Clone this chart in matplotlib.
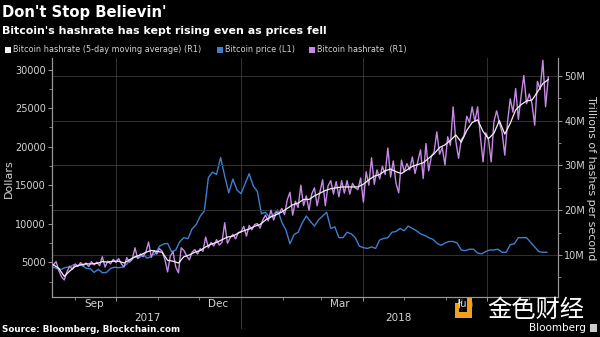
import numpy as np
import pandas as pd
import matplotlib
matplotlib.use('Agg')
import matplotlib.pyplot as plt
import matplotlib.dates as mdates
from matplotlib.patches import Rectangle

# Bitcoin price, USD, every 3 days from 2017-08-16
price = [4380, 4150, 4100, 4340, 4390, 4700,
         4600, 4600, 4230, 4170, 3700, 4080, 3650, 3680, 4200, 4360,
         4300, 4370, 4770, 5430, 5680, 5570, 6010, 5530, 5760, 6130,
         7080, 7380, 7460, 6360, 6600, 7700, 8200, 8060, 9330, 9890,
         10980, 11650, 16000, 16700, 16400, 18600, 16200, 14000, 15800, 14400,
         13900, 15200, 16500, 14900, 14200, 11300, 11500, 10800, 11200, 11800, 10200,
         9200, 7400, 8600, 8900, 10100, 11000, 10300, 9700, 10500,
         11000, 11500, 9400, 9600, 8200, 8200, 8900, 8700, 8200, 7100,
         6900, 6800, 7000, 6800, 7900, 8100, 8200, 8900, 9000, 9400,
         9100, 9700, 9400, 9100, 8700, 8500, 8200, 8000, 7500, 7200, 7500,
         7700, 7700, 7500, 6600, 6500, 6700, 6700, 6200, 6100, 6400,
         6600, 6600, 6700, 6300, 6300, 7300, 7400, 8200, 8200, 8200,
         7600, 7000, 6400, 6300, 6300]

# hashrate, millions of TH/s, every 2 days from 2017-08-16
hashrate = [7.8, 8.5, 6.5, 5.1, 4.4, 6.2, 7.5, 6.8, 8.0, 7.4,
            8.3, 7.6, 8.2, 7.4, 8.5, 7.8, 8.4, 7.6, 9.6, 7.3,
            8.6, 8.0, 9.0, 8.3, 9.2, 8.0, 7.3, 9.4, 8.4, 9.0,
            11.6, 9.2, 10.2, 9.6, 10.6, 12.9, 9.5, 11.0, 10.2, 11.4,
            10.8, 9.0, 6.2, 9.8, 10.7, 7.3, 6.0, 11.6, 11.0, 9.8,
            8.9, 10.6, 11.2, 10.2, 11.4, 10.8, 14.0, 11.6, 12.8, 12.0,
            13.4, 12.2, 12.8, 17.2, 12.6, 13.8, 14.6, 13.6, 15.0, 15.2,
            16.4, 14.2, 16.6, 15.6, 16.8, 17.0, 16.0, 17.8, 18.9, 17.6,
            20.0, 17.8, 19.6, 19.2, 20.4, 19.0, 22.3, 24.0, 18.9, 22.0,
            20.6, 25.6, 21.0, 23.2, 20.0, 23.6, 25.0, 21.0, 24.0, 26.8,
            21.0, 25.4, 26.6, 23.6, 26.4, 23.0, 26.6, 23.8, 26.6, 23.6,
            26.0, 25.0, 24.6, 27.2, 21.8, 28.6, 25.6, 31.7, 25.8, 29.0,
            27.0, 29.8, 28.0, 33.9, 27.4, 31.0, 26.0, 23.9, 31.2, 28.6,
            30.4, 29.0, 31.9, 28.2, 30.8, 33.5, 27.1, 34.9, 28.8, 32.0,
            33.0, 37.5, 32.5, 34.0, 30.1, 36.4, 34.5, 43.1, 35.4, 31.6,
            35.8, 36.6, 41.0, 39.6, 43.1, 39.8, 43.1, 36.6, 30.8, 37.3,
            35.8, 30.8, 39.8, 42.2, 39.6, 37.4, 32.3, 39.6, 44.9, 41.9,
            47.2, 40.3, 45.5, 50.1, 43.8, 46.0, 43.8, 39.0, 48.8, 47.0,
            53.5, 43.1, 49.8]

# 5-day moving average of hashrate, read every 4 days from 2017-08-16
hashrate_ma = [7.8, 7.0, 5.2, 6.4, 7.4, 7.8, 8.0, 8.0, 8.1, 8.5,
               8.4, 8.6, 8.6, 8.2, 8.9, 9.6, 10.0, 10.6, 11.0, 10.8,
               10.6, 8.8, 8.6, 8.2, 9.6, 10.0, 10.6, 11.0, 11.8, 12.4,
               12.8, 13.4, 14.0, 14.2, 14.9, 15.4, 15.8, 16.4, 16.8, 17.8,
               18.5, 19.0, 19.6, 20.4, 21.2, 21.6, 22.4, 22.4, 23.2, 23.8,
               24.4, 24.8, 25.0, 25.2, 25.2, 25.2, 25.2, 25.8, 26.8, 27.6,
               28.0, 28.8, 29.2, 28.6, 28.2, 29.0, 29.8, 30.2, 30.6, 31.6,
               32.6, 34.0, 34.6, 35.6, 36.8, 35.2, 37.8, 39.6, 40.2, 37.6,
               36.0, 37.2, 40.0, 37.0, 39.4, 42.4, 43.6, 44.4, 44.6, 46.4,
               48.3, 49.2]

month_labels = ['Sep', 'Dec', 'Mar', 'Jun']
month_label_dates = ['2017-09-15', '2017-12-15', '2018-03-15', '2018-06-15']
year_labels = ['2017', '2018']

price_dates = pd.date_range('2017-08-16', periods=len(price), freq='3D')
hash_dates = pd.date_range('2017-08-16', periods=len(hashrate), freq='2D')
ma_dates = pd.date_range('2017-08-16', periods=len(hashrate_ma), freq='4D')

# 颜色
bg = '#000000'
c_price = '#3d7fd0'
c_hash = '#c68ae6'
c_ma = '#f2f2f2'
c_grid = '#3a3a3a'
c_axis = '#999999'
c_text = '#d4d4d4'

plt.rcParams['font.family'] = ['DejaVu Sans', 'Noto Sans CJK SC']

fig = plt.figure(figsize=(6, 3.37), dpi=100, facecolor=bg)
ax = fig.add_axes([0.0867, 0.1187, 0.843, 0.709], facecolor=bg)
ax2 = ax.twinx()

xmin = pd.Timestamp('2017-08-15')
xmax = pd.Timestamp('2018-08-22')

# 左轴：价格
ax.plot(price_dates, price, color=c_price, lw=1.0, zorder=2)
ax.set_ylim(500, 31500)
ax.set_xlim(xmin, xmax)
ax.set_yticks([5000, 10000, 15000, 20000, 25000, 30000])
ax.set_yticks([2500, 7500, 12500, 17500, 22500, 27500], minor=True)

# 右轴：算力
ax2.plot(hash_dates, hashrate, color=c_hash, lw=1.0, zorder=3)
ax2.plot(ma_dates, hashrate_ma, color=c_ma, lw=0.9, zorder=4)
ax2.set_ylim(0.6, 54)
ax2.set_yticks([10, 20, 30, 40, 50])
ax2.set_yticklabels(['10M', '20M', '30M', '40M', '50M'])
ax2.set_yticks([5, 15, 25, 35, 45], minor=True)
ax2.grid(axis='y', color=c_grid, lw=0.6)
ax2.set_xlim(xmin, xmax)

fig.text(0.014, 0.47, 'Dollars', color=c_text, fontsize=8, rotation=90,
         va='center', ha='center')
fig.text(0.985, 0.47, 'Trillions of hashes per second', color=c_text, fontsize=8,
         rotation=270, va='center', ha='center')

# x 轴
quarter_starts = pd.to_datetime(['2017-10-01', '2018-01-01', '2018-04-01', '2018-07-01'])
ax.set_xticks(quarter_starts)
ax.set_xticklabels([])
ax.xaxis.set_minor_locator(mdates.MonthLocator())
ax.grid(axis='x', color=c_grid, lw=0.6)
ax.set_axisbelow(True)

for a in (ax, ax2):
    for s in a.spines.values():
        s.set_color(c_axis)
        s.set_linewidth(0.8)
    a.spines['top'].set_visible(False)
    a.tick_params(colors=c_axis, labelcolor=c_text, labelsize=7, length=3, width=0.7, pad=1.5)
    a.tick_params(which='minor', colors=c_axis, length=2, width=0.6)

xt = ax.get_xaxis_transform()
for lab, d in zip(month_labels, month_label_dates):
    ax.text(pd.Timestamp(d), -0.029, lab, transform=xt,
            ha='center', va='center', color=c_text, fontsize=7.5)
ax.text(pd.Timestamp('2017-10-24'), -0.086, year_labels[0], transform=xt,
        ha='center', va='center', color=c_text, fontsize=7.5)
ax.text(pd.Timestamp('2018-04-27'), -0.086, year_labels[1], transform=xt,
        ha='center', va='center', color=c_text, fontsize=7.5)
ax.plot([pd.Timestamp('2018-01-01')] * 2, [0, -0.13], transform=xt,
        color=c_grid, lw=0.7, clip_on=False)

# 标题
fig.text(0.004, 0.964, "Don't Stop Believin'", color='white', fontsize=10.6,
         fontweight='bold', va='center', ha='left')
fig.text(0.004, 0.908, "Bitcoin's hashrate has kept rising even as prices fell",
         color='white', fontsize=7.9, fontweight='bold', va='center', ha='left')

# 图例
legend_items = [('Bitcoin hashrate (5-day moving average) (R1)', c_ma, 0.008),
                ('Bitcoin price (L1)', c_price, 0.362),
                ('Bitcoin hashrate  (R1)', c_hash, 0.515)]
for txt, col, x0 in legend_items:
    fig.patches.append(Rectangle((x0, 0.843), 0.010, 0.018, transform=fig.transFigure,
                                 facecolor=col, edgecolor='none'))
    fig.text(x0 + 0.013, 0.852, txt, color=c_text, fontsize=5.9, va='center', ha='left')

fig.text(0.004, 0.021, 'Source: Bloomberg, Blockchain.com', color='white', fontsize=6.3,
         fontweight='bold', va='center', ha='left')

# 水印
orange = '#f0a01c'
fig.patches.append(Rectangle((0.778, 0.056), 0.009, 0.059, transform=fig.transFigure,
                             facecolor=orange, edgecolor='none'))
fig.patches.append(Rectangle((0.758, 0.056), 0.029, 0.018, transform=fig.transFigure,
                             facecolor=orange, edgecolor='none'))
fig.patches.append(Rectangle((0.758, 0.074), 0.007, 0.027, transform=fig.transFigure,
                             facecolor=orange, edgecolor='none'))
fig.text(0.767, 0.106, 'JLJ', color='white', fontsize=3.5, va='center', ha='center')
fig.text(0.812, 0.080, '金色财经', family=['Noto Sans CJK SC', 'DejaVu Sans'],
         color='white', fontsize=17.5, va='center', ha='left')
fig.text(0.976, 0.026, 'Bloomberg', color='white', fontsize=7.5, va='center', ha='right')
fig.patches.append(Rectangle((0.983, 0.014), 0.012, 0.026, transform=fig.transFigure,
                             facecolor='#cccccc', edgecolor='none'))

fig.savefig('out.png', dpi=100, facecolor=bg)
